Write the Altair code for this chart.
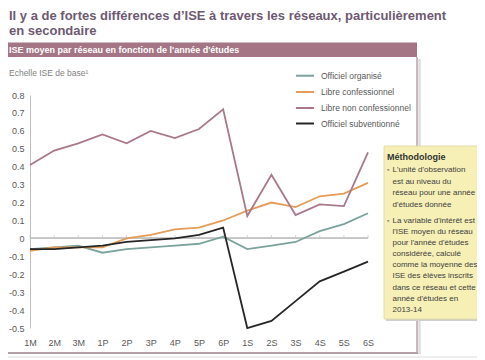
import altair as alt
import pandas as pd

CATEGORIES = ["1M", "2M", "3M", "1P", "2P", "3P", "4P", "5P", "6P",
              "1S", "2S", "3S", "4S", "5S", "6S"]
SERIES = ["Officiel organisé", "Libre confessionnel",
          "Libre non confessionnel", "Officiel subventionné"]
OFFICIEL_ORGANISE = [-0.06, -0.05, -0.04, -0.08, -0.06, -0.05, -0.04, -0.03, 0.01,
                     -0.06, -0.04, -0.02, 0.04, 0.08, 0.14]
LIBRE_CONFESSIONNEL = [-0.07, -0.05, -0.05, -0.05, 0.00, 0.02, 0.05, 0.06, 0.10,
                       0.155, 0.20, 0.175, 0.235, 0.25, 0.31]
LIBRE_NON_CONFESSIONNEL = [0.41, 0.49, 0.53, 0.58, 0.53, 0.60, 0.56, 0.61, 0.72,
                           0.125, 0.355, 0.13, 0.19, 0.18, 0.48]
OFFICIEL_SUBVENTIONNE = [-0.06, -0.06, -0.05, -0.04, -0.02, -0.01, 0.00, 0.02, 0.06,
                         -0.50, -0.46, -0.35, -0.24, -0.185, -0.13]
COLORS = ["#7ba39d", "#e59c5a", "#a9788a", "#262626"]
Y_TICKS = [0.8, 0.7, 0.6, 0.5, 0.4, 0.3, 0.2, 0.1, 0.0,
           -0.1, -0.2, -0.3, -0.4, -0.5]

TITLE_1 = "Il y a de fortes différences d’ISE à travers les réseaux, particulièrement"
TITLE_2 = "en secondaire"
HEADER = "ISE moyen par réseau en fonction de l'année d'études"
Y_NOTE = "Echelle ISE de base¹"
METHOD_TITLE = "Méthodologie"
BULLET_1 = ["L'unité d'observation", "est au niveau du",
            "réseau pour une année", "d'études donnée"]
BULLET_2 = ["La variable d'intérêt est", "l'ISE moyen du réseau",
            "pour l'année d'études", "considérée, calculé",
            "comme la moyenne des", "ISE des élèves inscrits",
            "dans ce réseau et cette", "année d'études en", "2013-14"]

FONT = "Liberation Sans"
W, H = 338, 233

values = [OFFICIEL_ORGANISE, LIBRE_CONFESSIONNEL,
          LIBRE_NON_CONFESSIONNEL, OFFICIEL_SUBVENTIONNE]
rows = []
for s, vals in zip(SERIES, values):
    for c, v in zip(CATEGORIES, vals):
        rows.append({"annee": c, "reseau": s, "ise": v})
df = pd.DataFrame(rows)
one = pd.DataFrame({"k": [0]})
zero_df = pd.DataFrame({"annee": CATEGORIES, "ise": [0.0] * len(CATEGORIES)})

x_enc = alt.X("annee:N", sort=CATEGORIES,
              scale=alt.Scale(type="point", padding=0),
              axis=alt.Axis(title=None, domain=False, ticks=False, labelAngle=0,
                            labelPadding=10, labelColor="#595959", labelFontSize=9,
                            labelFont=FONT, grid=False, labelOverlap=False))
y_enc = alt.Y("ise:Q", scale=alt.Scale(domain=[-0.5, 0.8], nice=False, zero=False),
              axis=alt.Axis(title=None, values=Y_TICKS, ticks=False, grid=False,
                            domainColor="#bfbfbf", labelColor="#595959",
                            labelFontSize=9, labelFont=FONT, labelPadding=6,
                            labelOverlap=False, labelBound=False,
                            labelExpr="datum.value == 0 ? '0' : (datum.value < 0 ? '-' : '') + format(abs(datum.value), '.1f')"))
color_enc = alt.Color("reseau:N", scale=alt.Scale(domain=SERIES, range=COLORS),
                      legend=None)

layers = []

# zero line with small upward ticks
layers.append(alt.Chart(zero_df).mark_rule(color="#c4c4c4", strokeWidth=1).encode(
    x=alt.value(0), x2=alt.value(W), y=y_enc))
layers.append(alt.Chart(zero_df)
              .mark_tick(orient="vertical", size=3.5, thickness=1, color="#c4c4c4", yOffset=-1.75)
              .encode(x=x_enc, y=y_enc))

# series lines
for s in SERIES:
    layers.append(alt.Chart(df).transform_filter(alt.datum.reseau == s)
                  .mark_line(strokeWidth=1.8).encode(x=x_enc, y=y_enc, color=color_enc))

# decorations: panel, header, title
layers.append(alt.Chart(one).mark_rect(color="#a47585").encode(
    x=alt.value(-22), x2=alt.value(387), y=alt.value(-52.5), y2=alt.value(-38)))
layers.append(alt.Chart(one).mark_text(align="left", baseline="middle", font=FONT,
                                       fontSize=9, fontWeight="bold", color="white").encode(
    x=alt.value(-21), y=alt.value(-45), text=alt.value(HEADER)))
layers.append(alt.Chart(one).mark_text(align="left", baseline="alphabetic", font=FONT,
                                       fontSize=13, fontWeight="bold", color="#6d5a72").encode(
    x=alt.value(-21), y=alt.value(-75), text=alt.value(TITLE_1)))
layers.append(alt.Chart(one).mark_text(align="left", baseline="alphabetic", font=FONT,
                                       fontSize=13, fontWeight="bold", color="#6d5a72").encode(
    x=alt.value(-21), y=alt.value(-60), text=alt.value(TITLE_2)))
layers.append(alt.Chart(one).mark_rule(color="#dcdcdc", strokeWidth=2.5).encode(
    x=alt.value(389.5), y=alt.value(-36), y2=alt.value(259)))
layers.append(alt.Chart(one).mark_rule(color="#b7a1ac", strokeWidth=1.5).encode(
    x=alt.value(387), y=alt.value(-38), y2=alt.value(258)))
layers.append(alt.Chart(one).mark_rule(color="#b3a0a9", strokeWidth=2).encode(
    x=alt.value(-22), x2=alt.value(388), y=alt.value(258)))
layers.append(alt.Chart(one).mark_rule(color="#dddddd", strokeWidth=1).encode(
    x=alt.value(-22), x2=alt.value(460), y=alt.value(262)))
layers.append(alt.Chart(one).mark_text(align="left", baseline="middle", font=FONT,
                                       fontSize=8.5, color="#7f7f7f").encode(
    x=alt.value(-21), y=alt.value(-22), text=alt.value(Y_NOTE)))

# legend (manual)
leg_y = [-19.3, -3.0, 13.0, 28.5]
for s, col, yy in zip(SERIES, COLORS, leg_y):
    layers.append(alt.Chart(one).mark_rule(color=col, strokeWidth=2).encode(
        x=alt.value(266), x2=alt.value(284), y=alt.value(yy)))
    layers.append(alt.Chart(one).mark_text(align="left", baseline="middle", font=FONT,
                                           fontSize=8.5, color="#595959").encode(
        x=alt.value(291), y=alt.value(yy), text=alt.value(s)))

# methodology box
layers.append(alt.Chart(one).mark_rect(color="#d0d0d0").encode(
    x=alt.value(356), x2=alt.value(460), y=alt.value(53), y2=alt.value(226)))
layers.append(alt.Chart(one).mark_rect(color="#f6efb6", stroke="#e0d7a0", strokeWidth=0.8).encode(
    x=alt.value(354), x2=alt.value(460), y=alt.value(51), y2=alt.value(224)))
layers.append(alt.Chart(one).mark_text(align="left", baseline="middle", font=FONT,
                                       fontSize=9, fontWeight="bold", color="#333333").encode(
    x=alt.value(357), y=alt.value(61.7), text=alt.value(METHOD_TITLE)))
for yy in [75.0, 125.7]:
    layers.append(alt.Chart(one).mark_text(align="left", baseline="middle", font=FONT,
                                           fontSize=6.5, color="#7f7f7f").encode(
        x=alt.value(357), y=alt.value(yy), text=alt.value("▪")))
layers.append(alt.Chart(one).mark_text(align="left", baseline="middle", font=FONT,
                                       fontSize=8, color="#404040", lineBreak="\n",
                                       lineHeight=11.6).encode(
    x=alt.value(362.5), y=alt.value(75.0), text=alt.value("\n".join(BULLET_1))))
layers.append(alt.Chart(one).mark_text(align="left", baseline="middle", font=FONT,
                                       fontSize=8, color="#404040", lineBreak="\n",
                                       lineHeight=11.15).encode(
    x=alt.value(362.5), y=alt.value(125.7), text=alt.value("\n".join(BULLET_2))))

chart = alt.layer(*layers).properties(
    width=W, height=H,
    autosize=alt.AutoSizeParams(type="none"),
    padding={"left": 22, "top": 87, "right": 109, "bottom": 30},
    background="white",
).configure_view(stroke=None).configure_axis(labelOverlap=False)

chart.save("out.html", embed_options={"renderer": "svg", "actions": False})
